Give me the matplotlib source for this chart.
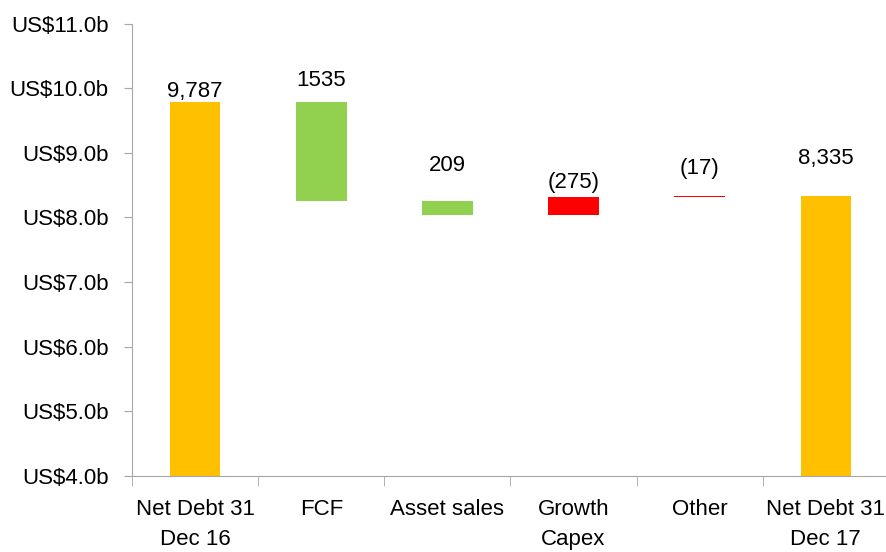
import matplotlib
matplotlib.use("Agg")
import matplotlib.pyplot as plt
from matplotlib.ticker import FuncFormatter, FixedLocator

# data (US$ millions)
categories = ["Net Debt 31\nDec 16", "FCF", "Asset sales", "Growth\nCapex", "Other", "Net Debt 31\nDec 17"]
changes = [9787, -1535, -209, 275, 17, 8335]
labels = ["9,787", "1535", "209", "(275)", "(17)", "8,335"]
kinds = ["total", "down", "down", "up", "up", "total"]

colors = {"total": "#FFC000", "down": "#92D050", "up": "#FF0000"}
# label offsets above bar tops (points), as laid out in the original
label_offsets = [0, 8, 18, 3, 12, 19]

plt.rcParams['font.family'] = ['Liberation Sans Narrow', 'Liberation Sans', 'DejaVu Sans']

fig = plt.figure(figsize=(8.87, 5.52), dpi=100)
ax = fig.add_axes([0.149, 0.138, 0.853, 0.819])

# build waterfall bottoms / heights (in billions)
running = 0
for i, (chg, kind) in enumerate(zip(changes, kinds)):
    if kind == "total":
        bottom, top = 0, chg / 1000
        running = chg
    else:
        start = running
        running = running + chg
        bottom, top = min(start, running) / 1000, max(start, running) / 1000
    ax.bar(i, top - bottom, bottom=bottom, width=0.4, color=colors[kind], zorder=2)
    ax.annotate(labels[i], (i, top), xytext=(0, label_offsets[i]), textcoords="offset points",
                ha="center", va="bottom", fontsize=16)

ax.set_ylim(4, 11)
ax.set_xlim(-0.5, len(categories) - 0.5)
ax.set_yticks(range(4, 12))
ax.yaxis.set_major_formatter(FuncFormatter(lambda v, p: f"US${v:.1f}b"))

ax.set_xticks(range(len(categories)))
ax.set_xticklabels(categories, linespacing=1.55)
ax.xaxis.set_minor_locator(FixedLocator([i - 0.5 for i in range(len(categories) + 1)]))
ax.tick_params(axis="x", which="major", length=0, pad=17, labelsize=16)
ax.tick_params(axis="x", which="minor", length=7, direction="out", color="#A6A6A6")
ax.tick_params(axis="y", length=6, direction="out", color="#A6A6A6", labelsize=16, pad=11)

for s in ["top", "right"]:
    ax.spines[s].set_visible(False)
for s in ["left", "bottom"]:
    ax.spines[s].set_color("#A6A6A6")

fig.savefig("out.png", dpi=100)
